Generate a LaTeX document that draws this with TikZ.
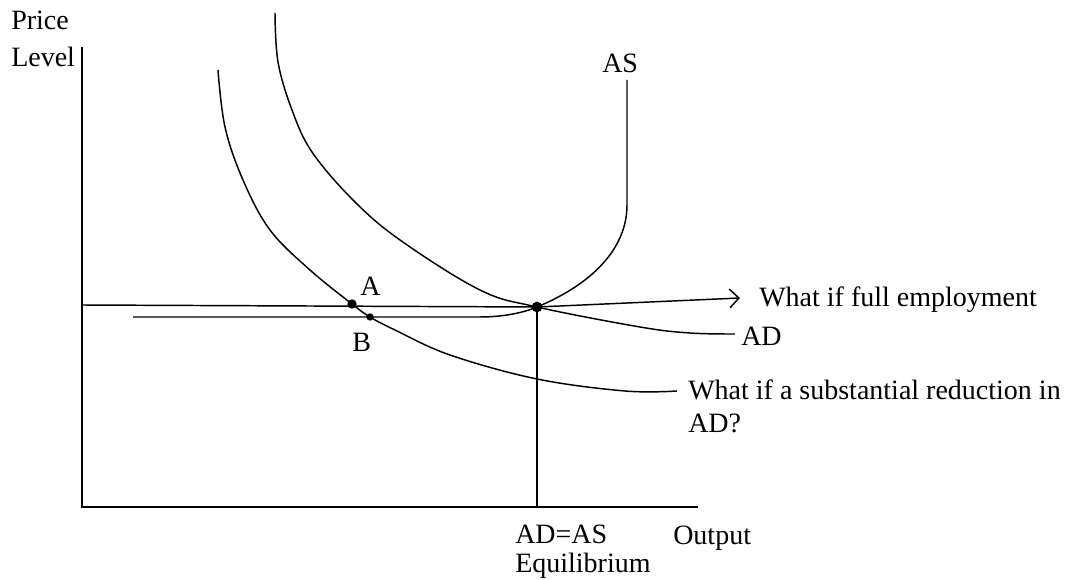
\documentclass[tikz,border=0pt]{standalone}
\usepackage{fontspec}
\setmainfont{Liberation Serif}
\usetikzlibrary{arrows.meta}

\begin{document}
\begin{tikzpicture}[
  x=0.75pt, y=-0.75pt,
  >={Straight Barb[length=7pt, width=14pt]},
  curve/.style={line width=1.1pt, black},
  axis/.style={line width=1.4pt, black},
  dot/.style={circle, fill=black, inner sep=0pt, minimum size=#1},
  dot/.default=7pt,
  lbl/.style={font=\fontsize{21}{25}\selectfont, text=black,
    inner sep=0pt, anchor=base west, align=left},
]
\useasboundingbox (0,0) rectangle (1072,580);

% ---- Axes ----
\coordinate (ytop) at (82,47);
\coordinate (orig) at (82,507);
\coordinate (xend) at (698,507);
\draw[axis] (ytop) -- (orig) -- (xend);

% (base of a two-line label = baseline of its last line)
\node[lbl, font=\fontsize{21}{28}\selectfont] (ylab) at (11,67) {Price\\Level};
\node[lbl] (xlab) at (673,545) {Output};

% ---- Points ----
\node[dot=8pt]   (eq) at (537,307) {};
\node[dot=7pt]   (ptA) at (352,304) {};
\node[dot=5.5pt] (ptB) at (370,317) {};

% ---- Full employment line ----
\coordinate (fe0) at (82,305);
\coordinate (fetip) at (740,298);
\draw[curve, ->] (fe0) -- (eq.center) -- (fetip);
\node[lbl] (fulllab) at (759,307) {What if full employment};

% ---- Equilibrium drop line ----
\coordinate (eqbase) at (537,507);
\draw[axis] (eq.center) -- (eqbase);
\node[lbl, font=\fontsize{21}{22}\selectfont] (eqlab) at (515,573) {AD=AS\\Equilibrium};

% ---- AS curve ----
\draw[curve] (133,317) -- (480,317)
  .. controls (510,317) and (530,310) .. (eq.center)
  .. controls (590,285) and (627,250) .. (627,205) -- (627,80);
\node[lbl] (labAS) at (602,73) {AS};

% ---- AD curve ----
\draw[curve] plot[smooth, tension=0.6] coordinates {
  (275,13) (278,62) (292,110) (312,152) (353,200) (400,240)
  (480,290) (537,307) (640,327) (690,333) (735,334)};
\node[lbl] (labAD) at (741,346) {AD};

% ---- Reduced AD curve ----
\draw[curve] plot[smooth, tension=0.6] coordinates {
  (218,70) (225,127) (243,180) (270,230) (310,270) (352,304)
  (370,317) (395,330) (450,355) (537,379) (625,391) (677,391)};
\node[lbl] (cutlab) at (688,433) {What if a substantial reduction in\\AD?};

% ---- Point labels ----
\node[lbl] (labA) at (360,296) {A};
\node[lbl] (labB) at (352,352) {B};

\end{tikzpicture}
\end{document}
